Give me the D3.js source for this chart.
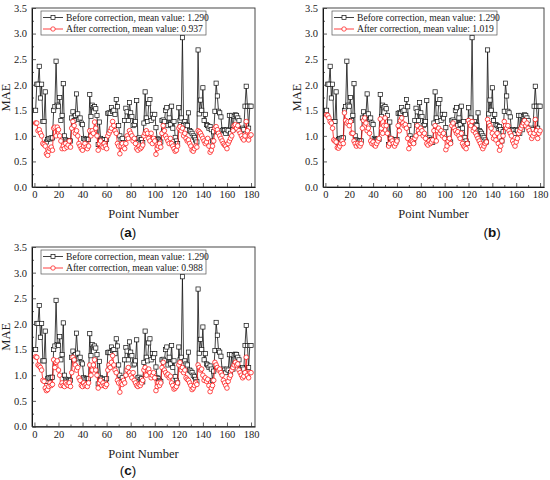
<!DOCTYPE html>
<html>
<head>
<meta charset="utf-8">
<script src="https://cdn.jsdelivr.net/npm/d3@7"></script>
<style>
body { margin: 0; background: #fff; }
svg { font-family: "Liberation Serif", "DejaVu Serif", serif; }
</style>
</head>
<body>
<svg width="550" height="480"></svg>
<script>
// MAE before correction (same in all three panels)
var before = [
  1.50, 2.01, 2.01, 2.36, 1.74, 2.01, 1.28, 1.28, 1.86, 0.88,
  0.93, 0.95, 0.94, 0.96, 0.96, 1.50, 1.57, 2.46, 1.60, 1.58,
  1.75, 1.30, 1.40, 2.02, 1.00, 0.92, 0.90, 0.88, 0.91, 0.90,
  1.35, 1.47, 1.30, 1.40, 1.82, 1.43, 1.32, 1.35, 1.25, 1.22,
  0.95, 0.93, 0.92, 0.94, 0.93, 1.81, 1.38, 1.60, 1.55, 1.57,
  1.53, 1.40, 0.83, 1.27, 0.95, 0.93, 0.90, 0.92, 0.87, 0.93,
  1.44, 1.45, 1.44, 1.55, 1.48, 1.50, 1.42, 1.71, 1.57, 1.20,
  1.00, 0.92, 0.95, 0.87, 1.30, 1.54, 1.47, 1.30, 1.65, 1.45,
  1.38, 1.20, 1.22, 1.28, 1.69, 0.95, 0.96, 0.92, 0.93, 0.87,
  1.25, 1.86, 1.35, 1.28, 1.63, 1.71, 1.30, 1.42, 1.35, 1.42,
  1.16, 0.95, 0.93, 0.90, 0.88, 1.30, 1.31, 1.28, 1.50, 1.55,
  1.20, 1.35, 1.22, 1.58, 1.15, 1.28, 0.97, 0.90, 0.85, 1.55,
  1.30, 1.35, 2.92, 1.20, 1.28, 1.22, 1.20, 1.45, 1.10, 1.08,
  1.05, 1.00, 0.97, 0.92, 0.88, 2.68, 1.43, 1.70, 1.50, 1.94,
  1.30, 1.42, 1.22, 1.20, 1.15, 1.18, 1.12, 0.90, 1.08, 1.48,
  2.03, 1.78, 1.48, 1.45, 1.37, 1.10, 1.12, 1.10, 1.05, 1.12,
  1.10, 1.40, 1.05, 1.40, 1.12, 1.38, 1.41, 1.40, 1.35, 1.30,
  1.12, 1.10, 1.15, 1.12, 1.58, 1.97, 1.58, 1.15, 1.58, 1.58
];

var afterA = [
  1.25, 1.25, 1.10, 1.12, 1.05, 1.00, 0.85, 0.83, 0.80, 0.65,
  0.62, 0.70, 0.75, 0.78, 0.72, 1.15, 1.17, 1.00, 1.17, 1.12,
  1.00, 0.90, 0.75, 0.80, 0.75, 0.85, 0.78, 0.82, 0.90, 0.78,
  1.15, 1.28, 1.20, 1.05, 1.10, 1.00, 0.85, 0.80, 0.75, 0.72,
  0.80, 0.85, 0.78, 0.75, 0.80, 1.10, 1.00, 1.10, 1.05, 1.27,
  1.15, 1.00, 0.72, 0.85, 0.90, 0.80, 0.78, 0.85, 0.80, 0.75,
  1.00, 1.05, 1.10, 1.15, 1.28, 1.20, 1.10, 1.05, 0.85, 0.80,
  0.65, 0.80, 0.85, 0.78, 0.75, 0.85, 1.00, 0.95, 1.10, 1.05,
  1.00, 0.90, 0.95, 0.85, 0.75, 0.72, 0.80, 0.75, 0.78, 0.82,
  1.00, 1.05, 1.10, 1.05, 0.95, 0.90, 1.05, 0.85, 0.95, 0.90,
  0.64, 0.75, 0.80, 0.85, 0.78, 1.05, 1.20, 1.10, 1.00, 0.95,
  0.90, 0.85, 0.95, 0.85, 0.80, 0.75, 0.70, 0.72, 0.80, 1.15,
  1.18, 1.10, 1.15, 1.00, 1.05, 0.95, 0.90, 0.92, 0.85, 0.80,
  0.72, 0.70, 0.75, 0.80, 0.78, 1.10, 1.08, 1.05, 1.00, 0.95,
  0.90, 0.85, 0.88, 0.95, 0.80, 0.68, 0.72, 0.80, 0.90, 1.15,
  1.18, 1.12, 1.05, 1.00, 0.95, 0.90, 0.85, 0.82, 0.80, 0.75,
  0.85, 0.90, 0.95, 1.00, 1.10, 1.20, 1.22, 1.15, 1.20, 1.10,
  1.05, 1.00, 0.95, 0.92, 1.00, 1.28, 1.10, 0.92, 1.00, 1.02
];

var afterB = [
  1.41, 1.40, 1.35, 1.28, 1.25, 1.15, 0.92, 0.90, 0.88, 0.77,
  0.76, 0.80, 0.85, 0.90, 0.85, 1.45, 1.30, 1.25, 1.28, 1.20,
  1.28, 1.05, 1.05, 0.90, 0.85, 0.80, 0.85, 0.82, 0.80, 0.85,
  1.15, 1.30, 1.35, 1.25, 1.10, 1.15, 1.05, 0.90, 0.85, 0.88,
  0.82, 0.80, 0.85, 0.90, 0.95, 1.33, 1.15, 1.05, 1.20, 1.35,
  1.20, 1.05, 0.80, 0.85, 0.95, 0.90, 0.85, 0.80, 0.85, 0.90,
  1.20, 1.10, 1.30, 1.35, 1.25, 1.20, 1.22, 1.15, 0.95, 0.75,
  0.85, 0.90, 0.88, 0.85, 0.95, 1.00, 1.20, 1.10, 1.05, 1.15,
  1.10, 1.00, 1.05, 0.95, 0.85, 0.82, 0.90, 0.85, 0.88, 0.92,
  1.10, 1.20, 0.90, 1.10, 1.15, 1.05, 1.10, 1.00, 1.05, 0.95,
  0.73, 0.80, 0.90, 0.95, 0.85, 1.20, 1.25, 1.15, 1.10, 1.05,
  1.08, 1.00, 0.95, 1.05, 0.85, 0.80, 0.78, 0.75, 0.85, 1.30,
  1.25, 1.20, 1.28, 1.10, 1.15, 1.05, 1.00, 0.95, 0.90, 0.85,
  0.80, 0.75, 0.80, 0.85, 0.88, 1.32, 1.25, 1.20, 1.15, 1.05,
  0.95, 1.00, 0.92, 1.05, 0.85, 0.72, 0.80, 0.90, 1.00, 1.28,
  1.20, 1.15, 1.20, 1.10, 1.05, 1.00, 0.90, 0.85, 0.80, 0.88,
  0.95, 1.05, 1.10, 1.15, 1.20, 1.25, 1.30, 1.20, 1.25, 1.15,
  1.10, 1.05, 0.95, 1.00, 1.05, 1.32, 1.10, 0.95, 1.05, 1.10
];

var afterC = [
  1.36, 1.35, 1.20, 1.18, 1.15, 1.10, 0.90, 0.88, 0.75, 0.70,
  0.72, 0.78, 0.85, 0.80, 0.82, 1.30, 1.15, 1.25, 1.28, 1.10,
  1.00, 0.80, 0.85, 0.80, 0.78, 0.85, 0.82, 0.80, 0.85, 0.78,
  1.05, 1.35, 1.30, 1.20, 1.10, 1.15, 0.95, 0.90, 0.80, 0.78,
  0.85, 0.80, 0.82, 0.78, 0.85, 1.20, 1.00, 1.10, 1.20, 1.30,
  1.10, 1.00, 0.75, 0.85, 0.90, 0.80, 0.85, 0.80, 0.78, 0.82,
  1.10, 1.20, 1.15, 1.25, 1.38, 1.20, 1.10, 1.05, 0.90, 0.85,
  0.67, 0.85, 0.82, 0.90, 0.85, 1.00, 1.10, 1.15, 1.05, 1.00,
  0.95, 1.05, 0.90, 0.85, 0.80, 0.78, 0.82, 0.80, 0.85, 0.90,
  1.10, 1.15, 1.00, 1.10, 1.12, 1.05, 0.95, 1.00, 1.05, 0.95,
  0.70, 0.78, 0.85, 0.80, 0.85, 1.15, 1.25, 1.10, 1.05, 1.00,
  1.02, 0.95, 0.98, 0.85, 0.80, 0.73, 0.75, 0.78, 0.85, 1.20,
  1.25, 1.10, 1.15, 1.05, 1.10, 0.95, 0.92, 0.90, 0.85, 0.80,
  0.72, 0.75, 0.80, 0.85, 0.82, 1.20, 1.15, 1.10, 1.12, 1.00,
  0.90, 0.95, 0.88, 0.92, 0.80, 0.68, 0.75, 0.80, 0.90, 1.25,
  1.20, 1.15, 1.10, 1.12, 1.05, 1.00, 0.90, 0.85, 0.80, 0.75,
  0.88, 0.95, 1.00, 1.10, 1.15, 1.20, 1.25, 1.20, 1.22, 1.10,
  1.05, 1.00, 0.95, 0.98, 1.05, 1.35, 1.00, 0.95, 1.05, 1.05
];

var pointNumber = d3.range(1, before.length + 1);
var panelLabels = ["a", "b", "c"];
var beforeMeans = ["1.290", "1.290", "1.290"];
var afterMeans = ["0.937", "1.019", "0.988"];
var xTicks = [0, 20, 40, 60, 80, 100, 120, 140, 160, 180];
var yTicks = [0.0, 0.5, 1.0, 1.5, 2.0, 2.5, 3.0, 3.5];

var svg = d3.select("svg");

// panel boxes in page pixels
var panels = [
  {left: 32,  right: 255, top: 8,   bottom: 187,   after: afterA, labelX: 128, labelY: 237},
  {left: 323, right: 544, top: 8,   bottom: 187,   after: afterB, labelX: 492, labelY: 237},
  {left: 32,  right: 255, top: 247, bottom: 426.5, after: afterC, labelX: 128, labelY: 475}
];

panels.forEach(function(p, k) {
  var g = svg.append("g");

  var x = d3.scaleLinear().domain([-2, 183.3]).range([p.left, p.right]);
  var y = d3.scaleLinear().domain([0, 3.5]).range([p.bottom, p.top]);

  // minor ticks
  g.append("g")
    .attr("transform", "translate(0," + p.bottom + ")")
    .call(d3.axisBottom(x).tickValues(d3.range(10, 180, 20)).tickSize(-2).tickFormat(""))
    .call(function(s) { s.select(".domain").remove(); });
  g.append("g")
    .attr("transform", "translate(" + p.left + ",0)")
    .call(d3.axisLeft(y).tickValues(d3.range(0.25, 3.5, 0.5)).tickSize(-2).tickFormat(""))
    .call(function(s) { s.select(".domain").remove(); });

  // major axes
  g.append("g")
    .attr("transform", "translate(0," + p.bottom + ")")
    .call(d3.axisBottom(x).tickValues(xTicks).tickSize(-4).tickPadding(4).tickSizeOuter(0));
  g.append("g")
    .attr("transform", "translate(" + p.left + ",0)")
    .call(d3.axisLeft(y).tickValues(yTicks).tickSize(-4).tickPadding(5).tickSizeOuter(0)
      .tickFormat(d3.format(".1f")));

  g.selectAll(".tick text")
    .attr("font-family", "Liberation Serif, serif")
    .attr("font-size", 10.5)
    .attr("fill", "#222");
  g.selectAll(".tick line").attr("stroke", "#333").attr("stroke-width", 0.8);

  // frame
  g.append("rect")
    .attr("x", p.left).attr("y", p.top)
    .attr("width", p.right - p.left).attr("height", p.bottom - p.top)
    .attr("fill", "none").attr("stroke", "#333").attr("stroke-width", 0.9);

  // axis titles
  g.append("text")
    .text("Point Number")
    .attr("x", (p.left + p.right) / 2)
    .attr("y", p.bottom + 31)
    .attr("text-anchor", "middle")
    .attr("font-size", 12.5)
    .attr("fill", "#222");

  g.append("text")
    .text("MAE")
    .attr("transform", "translate(" + (p.left - 22) + "," + ((p.top + p.bottom) / 2) + ")rotate(-90)")
    .attr("text-anchor", "middle")
    .attr("font-size", 12.5)
    .attr("fill", "#222");

  // panel label (a) (b) (c)
  var lab = g.append("text")
    .attr("x", p.labelX).attr("y", p.labelY)
    .attr("text-anchor", "middle")
    .attr("font-family", "Liberation Sans, Arial, sans-serif")
    .attr("font-size", 13.5)
    .attr("fill", "#111");
  lab.append("tspan").text("(");
  lab.append("tspan").text(panelLabels[k]).attr("font-weight", "bold");
  lab.append("tspan").text(")");

  var line = d3.line()
    .x(function(d, i) { return x(pointNumber[i]); })
    .y(function(d) { return y(d); });

  // before correction: black squares
  g.append("path").datum(before)
    .attr("d", line)
    .attr("fill", "none").attr("stroke", "#111").attr("stroke-width", 0.8);
  g.selectAll(".sq").data(before).enter().append("rect")
    .attr("x", function(d, i) { return x(pointNumber[i]) - 2.1; })
    .attr("y", function(d) { return y(d) - 2.1; })
    .attr("width", 4.2).attr("height", 4.2)
    .attr("fill", "#fff").attr("stroke", "#111").attr("stroke-width", 0.7);

  // after correction: red circles
  g.append("path").datum(p.after)
    .attr("d", line)
    .attr("fill", "none").attr("stroke", "#ff1010").attr("stroke-width", 0.8);
  g.selectAll(".ci").data(p.after).enter().append("circle")
    .attr("cx", function(d, i) { return x(pointNumber[i]); })
    .attr("cy", function(d) { return y(d); })
    .attr("r", 2.3)
    .attr("fill", "#fff").attr("stroke", "#ff1010").attr("stroke-width", 0.75);

  // legend, drawn last so it sits on top of the data
  var lx = p.left + 9, ly = p.top + 3;
  var leg = g.append("g");
  leg.append("rect")
    .attr("x", lx).attr("y", ly).attr("width", 165).attr("height", 24)
    .attr("fill", "#fff").attr("stroke", "#555").attr("stroke-width", 0.7);
  var items = [
    {label: "Before correction, mean value: " + beforeMeans[k], color: "#111", shape: "sq"},
    {label: "After correction, mean value: " + afterMeans[k], color: "#ff1010", shape: "ci"}
  ];
  items.forEach(function(it, j) {
    var cy = ly + 6.5 + j * 11.5;
    leg.append("line")
      .attr("x1", lx + 2).attr("x2", lx + 22).attr("y1", cy).attr("y2", cy)
      .attr("stroke", it.color).attr("stroke-width", 0.8);
    if (it.shape === "sq") {
      leg.append("rect")
        .attr("x", lx + 10).attr("y", cy - 2).attr("width", 4).attr("height", 4)
        .attr("fill", "#fff").attr("stroke", it.color).attr("stroke-width", 0.7);
    } else {
      leg.append("circle")
        .attr("cx", lx + 12).attr("cy", cy).attr("r", 2.2)
        .attr("fill", "#fff").attr("stroke", it.color).attr("stroke-width", 0.7);
    }
    leg.append("text")
      .text(it.label)
      .attr("x", lx + 25).attr("y", cy + 3.4)
      .attr("font-size", 9.6)
      .attr("fill", "#222");
  });
});
</script>
</body>
</html>
